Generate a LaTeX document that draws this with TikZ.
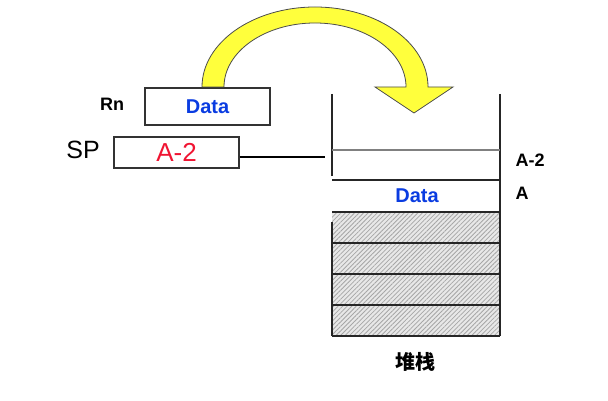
\documentclass[tikz,border=0pt]{standalone}
\usepackage{fontspec}
\setmainfont{Liberation Sans}
\newfontfamily\cjk{Noto Sans CJK SC}
\usepackage{tikz}
\usetikzlibrary{patterns.meta}

\definecolor{datablue}{RGB}{10,60,225}
\definecolor{spred}{RGB}{240,20,50}
\definecolor{arrowyellow}{RGB}{255,255,60}

\begin{document}
\begin{tikzpicture}[
        x=0.5pt, y=-0.5pt,
        regbox/.style={
            rectangle,
            draw=black!80,
            line width=0.6pt,
            minimum width=62.5pt,
            inner sep=0pt
        },
        reglabel/.style={
            font=\fontsize{9}{10}\selectfont\bfseries
        },
        datatext/.style={
            font=\fontsize{10}{11}\selectfont\bfseries,
            text=datablue
        },
        wall/.style={
            draw=black!85,
            line width=0.6pt
        },
        hatch/.style={
            fill=gray!18,
            postaction={pattern={Lines[angle=45,distance=1.6pt,line width=0.4pt]},pattern color=gray!70}
        }
    ]

        \useasboundingbox (0,0) rectangle (608,400);

        % registers
        \node[regbox, minimum height=18.5pt, datatext] (rn) at (207.5,106.5) {Data};
        \node[regbox, minimum height=15.5pt] (sp) at (176.5,152.5)
            {\fontsize{13}{14}\selectfont\color{spred}A-2};
        \node[reglabel] (rnlabel) at (112,104) {Rn};
        \node[font=\fontsize{12.5}{14}\selectfont] (splabel) at (83,150) {SP};

        % stack
        \path[hatch] (332,212) rectangle (500,336);
        \draw[wall] (332,94) -- (332,176);
        \draw[wall] (500,94) -- (500,336);
        \draw[draw=gray, line width=0.8pt] (332,150) -- (500,150);
        \draw[wall] (332,180) -- (500,180);
        \foreach \y in {212,243,274,305,336}
            \draw[wall] (332,\y) -- (500,\y);
        \draw[wall] (332,222) -- (332,336);

        \node[datatext] (stackdata) at (417,196) {Data};
        \node[reglabel] (addrA2) at (530,160) {A-2};
        \node[reglabel] (addrA) at (522,193) {A};
        \node[font=\fontsize{10}{12}\selectfont\cjk\bfseries] (stacklabel) at (415,362) {堆栈};

        \coordinate (sptip) at (325,157);
        \draw[line width=0.6pt] (sp.east |- sptip) -- (sptip);

        % curved arrow
        \filldraw[fill=arrowyellow, draw=black!70, line width=0.4pt]
            (202,87) arc[start angle=180, end angle=360, x radius=113, y radius=80]
            -- (453,87) -- (414,113) -- (375,87) -- (406,87)
            arc[start angle=0, end angle=-180, x radius=91, y radius=64]
            -- cycle;

    \end{tikzpicture}
\end{document}
